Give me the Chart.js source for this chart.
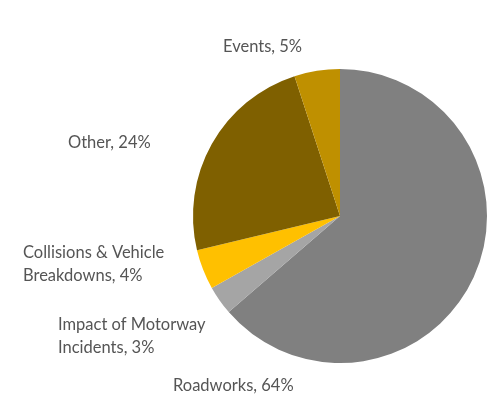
<!DOCTYPE html>
<html>
<head>
<meta charset="utf-8">
<script src="https://cdn.jsdelivr.net/npm/chart.js@4"></script>
<style>
  html, body { margin: 0; padding: 0; background: #fff; }
  #wrap { position: relative; width: 490px; height: 400px; }
</style>
</head>
<body>
<div id="wrap"><canvas id="pie"></canvas></div>
<script>
// Causes of delay – share of total (%), clockwise from 12 o'clock
const CATEGORIES = ['Roadworks', 'Impact of Motorway Incidents', 'Collisions & Vehicle Breakdowns', 'Other', 'Events'];
const SHARES     = [63.6, 3.2, 4.4, 23.7, 5.0];
const COLORS     = ['#808080', '#a5a5a5', '#ffc000', '#7f6000', '#bf9000'];

// label text broken into lines as in the original, with its anchor (left, first baseline)
const LABEL_LINES = [['Roadworks,'], ['Impact of Motorway', 'Incidents,'], ['Collisions & Vehicle', 'Breakdowns,'], ['Other,'], ['Events,']];
const LABEL_POS   = [[173, 391], [58, 330], [23, 258], [68, 148], [223, 52]];

const total = SHARES.reduce((a, b) => a + b, 0);

const outsideLabels = {
  id: 'outsideLabels',
  afterDraw(chart) {
    const ctx = chart.ctx;
    ctx.save();
    ctx.fillStyle = '#555555';
    ctx.font = "16.5px Lato, 'Open Sans', sans-serif";
    ctx.textAlign = 'left';
    ctx.textBaseline = 'alphabetic';
    chart.data.datasets[0].data.forEach((v, i) => {
      const pct = Math.round(v / total * 100) + '%';
      const lines = LABEL_LINES[i].slice();
      lines[lines.length - 1] += ' ' + pct;
      const [x, y] = LABEL_POS[i];
      lines.forEach((t, j) => ctx.fillText(t, x, y + j * 22.5));
    });
    ctx.restore();
  }
};

new Chart(document.getElementById('pie'), {
  type: 'pie',
  data: {
    labels: CATEGORIES,
    datasets: [{ data: SHARES, backgroundColor: COLORS, borderWidth: 0 }],
  },
  options: {
    responsive: true,
    maintainAspectRatio: false,
    animation: false,
    layout: { padding: { left: 193, right: 3, top: 69, bottom: 37 } },
    plugins: { legend: { display: false }, tooltip: { enabled: false } },
  },
  plugins: [outsideLabels],
});
</script>
</body>
</html>
